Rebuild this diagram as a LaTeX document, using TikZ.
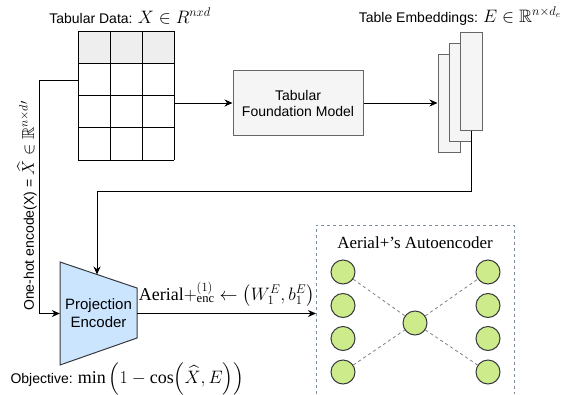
\RequirePackage{fix-cm}
\documentclass[tikz,border=0pt]{standalone}
\usepackage{amsmath,amssymb}
\usepackage{fontspec}
\setmainfont{Liberation Serif}
\setsansfont{Liberation Sans}
\usetikzlibrary{arrows.meta}
\definecolor{hdr}{HTML}{EEEEEE}
\definecolor{boxf}{HTML}{F5F5F5}
\definecolor{boxd}{HTML}{666666}
\definecolor{pblue}{HTML}{CCE5FF}
\definecolor{dk}{HTML}{36393D}
\definecolor{ngreen}{HTML}{CDEB8B}
\definecolor{dashc}{HTML}{7E8CA0}
\newcommand\bigmath[1]{{\fontsize{18}{20}\selectfont$#1$}}
\begin{document}
\begin{tikzpicture}[x=1pt,y=-1pt,
  sf/.style={font=\sffamily\fontsize{14}{16}\selectfont},
  arr/.style={-{Stealth[length=8pt,width=7pt]}, line width=1pt},
  embbox/.style={draw=boxd, fill=boxf, line width=1pt, minimum width=22pt, minimum height=98pt, inner sep=0pt},
  neuron/.style={circle, draw=dk, fill=ngreen, line width=1pt, minimum size=24pt, inner sep=0pt},
  nlink/.style={dashed, draw=gray, line width=0.8pt}
]
\useasboundingbox (0,0) rectangle (578,394);

% table
\node[minimum width=96pt, minimum height=129pt, inner sep=0pt] (tbl) at (126,95.5) {};
\fill[hdr] (78,31) rectangle (174,63.25);
\foreach \xx in {78,110,142,174} \draw[line width=1pt] (\xx,31) -- (\xx,160);
\foreach \yy in {31,63.25,95.5,127.75,160} \draw[line width=1pt] (78,\yy) -- (174,\yy);
\node[sf] (ttbl) at (130,16) {Tabular Data: \bigmath{X\in R^{nxd}}};

% foundation model
\node[sf, draw=boxd, fill=boxf, line width=1pt, minimum width=130pt, minimum height=65pt, align=center] (fm) at (298,103) {Tabular\\Foundation Model};

% embeddings
\node[embbox] (r1) at (449,103) {};
\node[embbox] (r2) at (460,92.5) {};
\node[embbox] (r3) at (471,81.5) {};
\node[sf] (temb) at (460,16) {Table Embeddings: \bigmath{E\in\mathbb{R}^{n\times d_e}}};

% projection encoder
\draw[fill=pblue, draw=dk, line width=1pt] (60,262) -- (137,288) -- (137,338) -- (60,365) -- cycle;
\node[sf, font=\sffamily\fontsize{15}{18}\selectfont, minimum width=77pt, minimum height=103pt, inner sep=0pt, align=center] (pe) at (98.5,313.5) {Projection\\Encoder};
\coordinate (petop) at (97,274.5);

% autoencoder box
\draw[dashed, draw=dashc, line width=1pt, dash pattern=on 3pt off 3pt] (316,394) -- (316,225) -- (514,225) -- (514,394);
\coordinate (aein) at (316,313.5);
\node[font=\rmfamily\fontsize{17}{20}\selectfont] (taut) at (415,243) {Aerial+'s Autoencoder};

\node[neuron] (a1) at (343,272) {};
\node[neuron] (a2) at (343,305.5) {};
\node[neuron] (a3) at (343,338.5) {};
\node[neuron] (a4) at (343,372) {};
\node[neuron] (m) at (415,323) {};
\node[neuron] (b1) at (488,272) {};
\node[neuron] (b2) at (488,305.5) {};
\node[neuron] (b3) at (488,338.5) {};
\node[neuron] (b4) at (488,372) {};
\draw[nlink] (a1) -- (m);
\draw[nlink] (a4) -- (m);
\draw[nlink] (m) -- (b1);
\draw[nlink] (m) -- (b4);

% connectors
\draw[arr] (fm.west -| tbl.east) -- (fm.west);
\draw[arr] (fm.east) -- (r1.west);
\draw[arr] ([yshift=15.5pt]tbl.west) -- ++(-38,0) |- (pe.west);
\draw[arr] (r3.south) -- ++(0,60) -| (petop);
\draw[arr] (pe.east) -- (aein) node[midway, above=3pt, font=\fontsize{18}{20}\selectfont] {$\mathrm{Aerial}+^{(1)}_{\mathrm{enc}}\leftarrow\bigl(W_1^E,b_1^E\bigr)$};

% side texts
\node[sf, rotate=90] (ohe) at (27,206) {One-hot encode(X) = {\fontsize{17}{19}\selectfont$\widehat{X}\in\mathbb{R}^{n\times d\prime}$}};
\node[sf, anchor=west] (obj) at (7,379) {Objective: \bigmath{\min\,\Bigl(1-\cos\Bigl(\widehat{X},E\Bigr)\Bigr)}};
\end{tikzpicture}
\end{document}
